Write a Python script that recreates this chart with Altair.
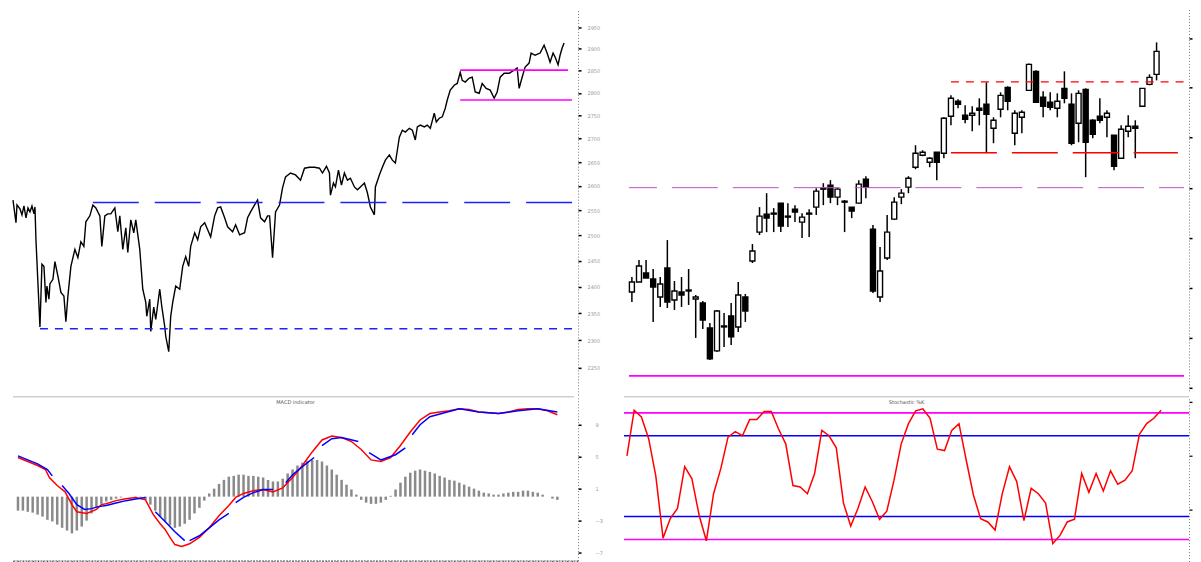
import altair as alt
import pandas as pd

# ---------------- top-left: price line ----------------
tl_day = [0,3,4,7,9,11,13,15,17,19,21,22,23,27,29,31,33,34,36,37,40,42,45,48,51,53,55,58,62,65,68,71,73,77,80,83,87,89,92,95,98,102,105,107,110,113,115,118,121,123,127,130,133,134,137,138,141,143,147,149,152,153,156,158,160,163,167,170,173,176,178,182,185,188,192,195,198,202,205,208,212,215,220,223,227,232,235,238,242,245,248,252,255,257,260,263,267,270,273,278,283,288,292,297,302,307,310,314,317,318,321,323,326,329,332,335,338,342,345,348,352,355,358,362,363,367,370,373,377,380,383,385,387,390,393,397,400,403,405,408,412,415,418,422,424,427,430,433,435,438,442,445,448,450,453,457,460,463,467,470,474,478,482,485,488,492,497,502,505,507,510,513,517,519,523,528,532,535,538,541,543,546,548,550,552]
tl_close = [2571,2525,2561,2553,2541,2559,2535,2555,2547,2559,2543,2557,2491,2324,2443,2439,2370,2401,2376,2405,2414,2448,2420,2389,2382,2334,2382,2439,2472,2456,2487,2478,2527,2539,2561,2555,2539,2478,2539,2543,2543,2555,2507,2539,2472,2515,2466,2531,2505,2531,2472,2395,2370,2344,2376,2316,2361,2338,2395,2363,2325,2307,2279,2344,2370,2401,2395,2439,2458,2439,2478,2505,2491,2517,2525,2511,2497,2539,2555,2557,2535,2517,2507,2521,2501,2505,2535,2547,2561,2571,2535,2527,2539,2539,2456,2547,2561,2596,2619,2627,2623,2612,2637,2639,2639,2637,2627,2641,2627,2581,2606,2598,2633,2602,2627,2612,2616,2598,2592,2598,2606,2586,2557,2541,2598,2623,2639,2654,2665,2654,2648,2675,2703,2718,2714,2722,2718,2697,2725,2729,2725,2729,2722,2755,2736,2744,2747,2766,2784,2806,2817,2821,2846,2828,2824,2833,2835,2802,2799,2821,2810,2806,2788,2802,2835,2844,2844,2851,2856,2810,2835,2858,2867,2890,2885,2890,2908,2890,2869,2890,2881,2863,2885,2901,2913]
tl_ticks = [2250,2300,2350,2400,2450,2500,2550,2600,2650,2700,2750,2800,2850,2900,2950]
tl_mag_levels = [2851, 2784]
tl_mag_start = [448, 448]
tl_mag_end = [556, 560]
tl_blue_long = [2566]
tl_blue_long_start = [80]
tl_blue_short = [2321]
tl_blue_short_start = [27]
tl_last_day = 566

# ---------------- bottom-left: MACD ----------------
bl_red_day = [0,10,20,28,32,40,48,55,60,70,80,85,90,100,110,120,130,138,145,150,155,160,167,175,185,195,205,215,222,230,240,250,260,270,280,290,300,310,320,330,340,350,360,370,380,390,400,410,420,430,440,450,460,470,480,490,500,510,520,530,540,550]
bl_red_val = [4.9,4.4,3.9,3.4,2.4,1.4,0.6,-1.0,-1.9,-2.1,-1.6,-1.0,-0.9,-0.5,-0.25,-0.1,-0.4,-2.25,-3.4,-4.1,-5.1,-6.0,-6.25,-5.9,-5.1,-3.9,-2.4,-1.1,-0.1,0.4,0.75,0.9,0.6,1.1,2.4,3.9,5.6,7.1,7.6,7.4,6.9,5.9,4.6,4.4,4.9,6.4,8.1,9.6,10.4,10.6,10.75,11.0,10.9,10.6,10.5,10.4,10.6,10.9,11.0,11.0,10.75,10.25]
bl_blue_day = [0,10,20,30,35, 45,52,60,68,75,82,90,100,110,120,130, 140,150,160,170, 175,185,195,205,215, 222,230,240,250,260, 273,280,290,302, 310,320,330,347, 358,370,385,395, 402,410,420,435,450,470,490,510,530,550]
bl_blue_val = [5.1,4.6,4.1,3.4,2.6, 1.4,0.4,-1.0,-1.6,-1.5,-1.25,-1.1,-0.8,-0.5,-0.3,-0.1, -1.9,-3.1,-4.4,-5.5, -5.5,-4.9,-3.9,-2.9,-2.1, -0.75,-0.1,0.5,0.9,0.9, 1.75,2.75,3.75,4.9, 6.4,7.25,7.4,6.9, 5.5,4.6,5.25,6.1, 7.75,9.0,10.0,10.5,11.0,10.6,10.4,10.75,11.0,10.6]
bl_blue_seg = [1,1,1,1,1, 2,2,2,2,2,2,2,2,2,2,2, 3,3,3,3, 4,4,4,4,4, 5,5,5,5,5, 6,6,6,6, 7,7,7,7, 8,8,8,8, 9,9,9,9,9,9,9,9,9,9]
bl_hist_day = list(range(0, 555, 5))
bl_hist_val = [-1.75,-1.75,-1.9,-2.0,-2.25,-2.5,-2.9,-3.1,-3.5,-3.9,-4.25,-4.6,-4.25,-3.75,-3.0,-2.1,-1.4,-0.9,-0.6,-0.4,
               -0.25,-0.1,0,0,-0.1,-0.1,-0.4,-1.0,-1.75,-2.5,-3.1,-3.6,-3.9,-3.75,-3.4,-2.9,-2.1,-1.4,-0.5,0.4,
               1.0,1.6,2.1,2.5,2.6,2.75,2.75,2.6,2.6,2.5,2.4,2.1,1.9,1.9,2.25,2.9,3.4,3.9,4.25,4.5,
               4.6,4.6,4.4,3.9,3.4,2.75,2.1,1.5,0.9,0.25,-0.4,-0.75,-0.9,-0.9,-0.75,-0.4,0.1,0.9,1.75,2.5,
               3.0,3.25,3.4,3.25,3.1,2.9,2.6,2.4,2.1,2.0,1.75,1.5,1.25,1.0,0.75,0.5,0.4,0.25,0.25,0.4,
               0.5,0.6,0.6,0.75,0.75,0.6,0.5,0.25,0,-0.25,-0.4]

# ---------------- top-right: candlesticks ----------------
tr_open = [3816,3836,3854,3842,3806,3864,3800,3816,3818,3802,3794,3744,3698,3746,3768,3746,3806,3878,3936,3972,3972,3994,3966,3982,3956,3972,3986,4022,4030,4006,3996,3986,3994,4042,3942,3806,3884,3962,4006,4026,4066,4090,4076,4096,4094,4168,4198,4170,4170,4184,4192,4144,4182,4226,4134,4166,4220,4258,4206,4196,4184,4224,4192,4154,4222,4160,4168,4166,4130,4084,4138,4148,4188,4232,4252]
tr_high = [3846,3880,3880,3862,3846,3920,3838,3846,3862,3810,3798,3754,3780,3774,3794,3836,3812,3912,3986,4014,3984,3994,3994,3990,3974,3982,4024,4034,4040,4024,4000,3986,4040,4048,3950,3906,3970,4006,4022,4048,4110,4100,4086,4096,4166,4210,4202,4190,4188,4204,4236,4166,4216,4228,4180,4180,4274,4260,4218,4216,4214,4258,4214,4220,4224,4162,4204,4180,4130,4150,4170,4160,4224,4252,4316]
tr_low = [3796,3836,3844,3756,3786,3784,3780,3786,3790,3724,3742,3680,3696,3706,3710,3736,3756,3874,3930,3936,3936,3936,3946,3956,3924,3926,3970,3990,3994,3990,3936,3964,3994,4004,3814,3796,3880,3960,3992,4014,4062,4088,4066,4040,4084,4150,4184,4154,4138,4150,4094,4114,4166,4180,4110,4134,4220,4196,4166,4180,4166,4194,4110,4116,4046,4124,4154,4126,4060,4084,4126,4084,4188,4230,4240]
tr_close = [3836,3868,3844,3826,3832,3796,3818,3810,3820,3806,3760,3682,3778,3748,3726,3810,3778,3898,3968,3964,3974,3948,3968,3976,3966,3974,4018,4024,4006,4022,3998,3978,4032,4026,3818,3858,3936,3996,4014,4044,4094,4096,4084,4076,4164,4204,4192,4162,4174,4180,4172,4160,4210,4198,4174,4176,4272,4196,4188,4186,4198,4204,4114,4214,4116,4132,4160,4174,4068,4142,4148,4144,4224,4246,4298]
tr_red_dash = 4237
tr_red_long = 4095
tr_mag_dash = 4025
tr_mag_solid = 3648
tr_levels_start = 45

# ---------------- bottom-right: stochastic ----------------
br_k = [65,99,94,78,50,4,18.5,26,57,48,21,2,37,55.6,79,83,80,92,92,98,98,85,74,43,42,37,52,84,80,71,30,13,26,42,31,18,24,47,74,89,98.5,100,93,70,69,84,89,62,36,18.5,16,10,37,57,46,17,41,37,30,0,6,16,18,52,38,52,39,54,44,47,54,81,89,93,99]
br_upper2, br_upper1, br_lower1, br_lower2 = 97, 80, 20, 3

FONT = "DejaVu Sans"

tl_df = pd.DataFrame({"day": tl_day, "close": tl_close})
n = len(tr_open)
tr_df = pd.DataFrame({"i": list(range(n)), "open": tr_open, "high": tr_high,
                      "low": tr_low, "close": tr_close})
tr_df["dir"] = ["up" if c >= o else "down" for o, c in zip(tr_open, tr_close)]
br_df = pd.DataFrame({"i": list(range(len(br_k))), "k": br_k})

# ---------------- top-left chart ----------------
tl_x = alt.X("day:Q", scale=alt.Scale(domain=[0, tl_last_day], nice=False, zero=False), axis=None)
tl_yscale = alt.Scale(type="log", domain=[2202, 2992], nice=False, zero=False)
tl_yaxis = alt.Axis(orient="right", values=tl_ticks, grid=False, title=None, format="d",
                    domainColor="#777", domainDash=[1, 2], domainWidth=1,
                    tickColor="black", tickSize=3, tickWidth=1.5, labelOverlap=False,
                    labelFontSize=5, labelColor="#999", labelPadding=6, labelFont=FONT)

tl_line = alt.Chart(tl_df).mark_line(color="black", strokeWidth=1.4).encode(
    x=tl_x, y=alt.Y("close:Q", scale=tl_yscale, axis=tl_yaxis))
mag_df = pd.DataFrame({"v": tl_mag_levels, "s": tl_mag_start, "e": tl_mag_end})
tl_mag = alt.Chart(mag_df).mark_rule(color="#ff00ff", strokeWidth=1.6).encode(
    x="s:Q", x2="e:Q", y="v:Q")
bl_df1 = pd.DataFrame({"v": tl_blue_long, "s": tl_blue_long_start, "e": [tl_last_day]})
tl_bl1 = alt.Chart(bl_df1).mark_rule(color="#2020ff", strokeWidth=1.5, strokeDash=[46, 16]).encode(
    x="s:Q", x2="e:Q", y="v:Q")
bl_df2 = pd.DataFrame({"v": tl_blue_short, "s": tl_blue_short_start, "e": [tl_last_day]})
tl_bl2 = alt.Chart(bl_df2).mark_rule(color="#2020ff", strokeWidth=1.5, strokeDash=[8, 7]).encode(
    x="s:Q", x2="e:Q", y="v:Q")
top_left = alt.layer(tl_line, tl_mag, tl_bl1, tl_bl2).properties(width=566, height=386)

# ---------------- bottom-left chart ----------------
bl_x = alt.X("day:Q", scale=alt.Scale(domain=[0, tl_last_day], nice=False, zero=False),
             axis=alt.Axis(orient="bottom", grid=False, labels=False, title=None, tickCount=140,
                           tickSize=1, tickColor="#555", domainColor="#444", domainDash=[2, 1]))
bl_yscale = alt.Scale(domain=[-8, 12.5], nice=False, zero=False)
bl_yaxis = alt.Axis(orient="right", values=list(range(-7, 13)), grid=False, title=None,
                    domainColor="#777", domainDash=[1, 2], tickColor="black", tickSize=3,
                    tickWidth=1.5, labelOverlap=False, labelFontSize=5, labelColor="#999",
                    labelPadding=14, labelFont=FONT)
hist_df = pd.DataFrame({"day": bl_hist_day, "h": bl_hist_val, "z": [0] * len(bl_hist_day)})
bl_hist = alt.Chart(hist_df).mark_bar(size=2.5, color="#8a8a8a").encode(
    x=bl_x, y=alt.Y("h:Q", scale=bl_yscale, axis=bl_yaxis), y2="z:Q")
red_df = pd.DataFrame({"day": bl_red_day, "v": bl_red_val})
bl_red = alt.Chart(red_df).mark_line(color="#ff0000", strokeWidth=1.5).encode(x="day:Q", y="v:Q")
blue_df = pd.DataFrame({"day": bl_blue_day, "v": bl_blue_val, "seg": bl_blue_seg})
bl_blue = alt.Chart(blue_df).mark_line(color="#0000ff", strokeWidth=1.5).encode(
    x="day:Q", y="v:Q", detail="seg:N")
bl_title_df = pd.DataFrame({"t": ["MACD indicator"]})
bl_border = alt.Chart(bl_title_df).mark_rule(color="#cfcfcf", strokeWidth=1.5).encode(
    y=alt.value(0), x=alt.value(0), x2=alt.value(562))
bl_title = alt.Chart(bl_title_df).mark_text(fontSize=5, color="#555", font=FONT).encode(
    x=alt.value(283), y=alt.value(5), text="t:N")
bottom_left = alt.layer(bl_hist, bl_red, bl_blue, bl_border, bl_title).properties(width=566, height=164)

# ---------------- top-right chart ----------------
xdom = [-0.415, 77.87]
tr_x = alt.X("i:Q", scale=alt.Scale(domain=xdom, nice=False, zero=False), axis=None)
tr_yscale = alt.Scale(domain=[3618, 4382], nice=False, zero=False)
tr_yaxis = alt.Axis(orient="right", values=list(range(3625, 4400, 25)), grid=False, title=None,
                    domainColor="#777", domainDash=[1, 2], tickColor="black", tickSize=3,
                    tickWidth=1.5, labels=False)
wick = alt.Chart(tr_df).mark_rule(color="black", strokeWidth=1.5).encode(
    x=tr_x, y=alt.Y("low:Q", scale=tr_yscale, axis=tr_yaxis), y2="high:Q")
body = alt.Chart(tr_df).mark_bar(size=5, stroke="black", strokeWidth=1.4).encode(
    x="i:Q", y="open:Q", y2="close:Q",
    fill=alt.Fill("dir:N", scale=alt.Scale(domain=["up", "down"], range=["white", "black"]), legend=None))
lvl_end = xdom[1]
red_dash_df = pd.DataFrame({"v": [tr_red_dash], "s": [tr_levels_start], "e": [lvl_end]})
tr_rd = alt.Chart(red_dash_df).mark_rule(color="#ff0000", strokeWidth=1.4, strokeDash=[8, 7]).encode(
    x="s:Q", x2="e:Q", y="v:Q")
red_long_df = pd.DataFrame({"v": [tr_red_long], "s": [tr_levels_start], "e": [77]})
tr_rl = alt.Chart(red_long_df).mark_rule(color="#ff0000", strokeWidth=1.6, strokeDash=[46, 15]).encode(
    x="s:Q", x2="e:Q", y="v:Q")
mag_dash_df = pd.DataFrame({"v": [tr_mag_dash], "s": [xdom[0]], "e": [lvl_end]})
tr_md = alt.Chart(mag_dash_df).mark_rule(color="#c050c0", strokeWidth=1, strokeDash=[46, 15],
                                         strokeDashOffset=18).encode(x="s:Q", x2="e:Q", y="v:Q")
mag_solid_df = pd.DataFrame({"v": [tr_mag_solid], "s": [xdom[0]], "e": [lvl_end]})
tr_ms = alt.Chart(mag_solid_df).mark_rule(color="#ff00ff", strokeWidth=1.6).encode(
    x="s:Q", x2="e:Q", y="v:Q")
top_right = alt.layer(wick, body, tr_md, tr_rd, tr_rl, tr_ms).properties(width=566, height=382)

# ---------------- bottom-right chart ----------------
br_x = alt.X("i:Q", scale=alt.Scale(domain=xdom, nice=False, zero=False),
             axis=alt.Axis(orient="bottom", values=list(range(0, 78)), grid=False, title=None,
                           tickSize=2, tickColor="#333", domainColor="#222", domainWidth=1.2,
                           labels=False))
br_yscale = alt.Scale(domain=[-15.6, 108.9], nice=False, zero=False)
br_yaxis = alt.Axis(orient="right", values=list(range(-15, 110, 5)), grid=False, title=None,
                    domainColor="#777", domainDash=[1, 2], tickColor="black", tickSize=3,
                    tickWidth=1.2, labels=False)
br_line = alt.Chart(br_df).mark_line(color="#ff0000", strokeWidth=1.5).encode(
    x=br_x, y=alt.Y("k:Q", scale=br_yscale, axis=br_yaxis))
lv_df = pd.DataFrame({"v": [br_upper2, br_lower2, br_upper1, br_lower1],
                      "kind": ["outer", "outer", "inner", "inner"],
                      "s": [xdom[0]] * 4, "e": [xdom[1]] * 4})
br_lv = alt.Chart(lv_df).mark_rule(strokeWidth=1.6).encode(
    x="s:Q", x2="e:Q", y="v:Q",
    color=alt.Color("kind:N", scale=alt.Scale(domain=["outer", "inner"], range=["#ff00ff", "#0000ff"]), legend=None))
br_title_df = pd.DataFrame({"t": ["Stochastic %K"]})
br_border = alt.Chart(br_title_df).mark_rule(color="#cfcfcf", strokeWidth=1.5).encode(
    y=alt.value(0), x=alt.value(0), x2=alt.value(566))
br_title = alt.Chart(br_title_df).mark_text(fontSize=5, color="#555", font=FONT).encode(
    x=alt.value(283), y=alt.value(5), text="t:N")
bottom_right = alt.layer(br_lv, br_line, br_border, br_title).properties(width=566, height=168)

chart = alt.concat(top_left, top_right, bottom_left, bottom_right, columns=2,
                   align="none", bounds="flush", spacing={"row": 2, "column": 46}).properties(
    padding={"left": 2, "top": 1, "right": 0, "bottom": 0}
).configure(font=FONT).configure_view(stroke=None)

chart.save("out.html", embed_options={"renderer": "svg", "actions": False})
